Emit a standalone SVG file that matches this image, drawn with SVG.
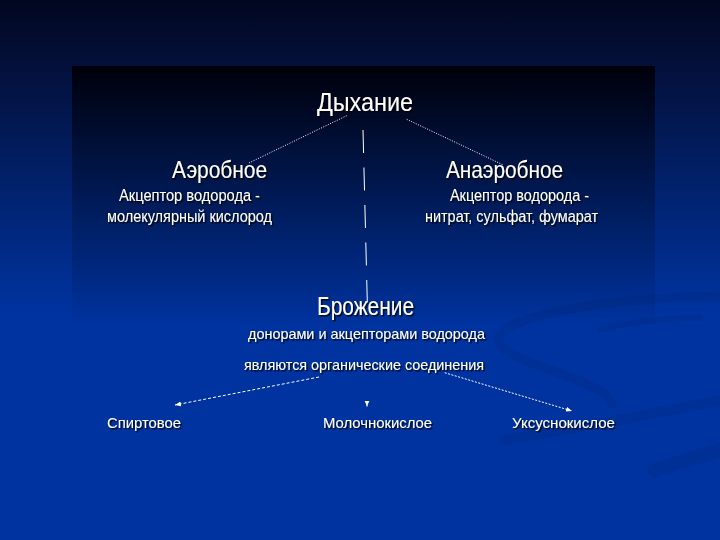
<svg xmlns="http://www.w3.org/2000/svg" width="720" height="540" viewBox="0 0 720 540">
  <defs>
    <linearGradient id="bgOuter" x1="0" y1="0" x2="0" y2="540" gradientUnits="userSpaceOnUse">
      <stop offset="0" stop-color="#020720"/>
      <stop offset="0.12" stop-color="#03103a"/>
      <stop offset="0.58" stop-color="#0033a0"/>
      <stop offset="1" stop-color="#0033a0"/>
    </linearGradient>
    <linearGradient id="bgInner" x1="0" y1="66" x2="0" y2="540" gradientUnits="userSpaceOnUse">
      <stop offset="0" stop-color="#00000a"/>
      <stop offset="0.55" stop-color="#0033a0"/>
      <stop offset="1" stop-color="#0033a0"/>
    </linearGradient>
    <filter id="shadow" x="-5%" y="-20%" width="110%" height="140%">
      <feDropShadow dx="1.5" dy="1.5" stdDeviation="0.4" flood-color="#000000" flood-opacity="0.85"/>
    </filter>
    <marker id="arrow" markerUnits="userSpaceOnUse" markerWidth="6" markerHeight="6" viewBox="0 0 6 6" refX="6" refY="3" orient="auto">
      <path d="M0,0.5 L6,3 L0,5.5 z" fill="#ffffff"/>
    </marker>
    <style>
      .t { font-family: "Liberation Sans", Arial, sans-serif; fill: #ffffff; filter: url(#shadow); }
      .title { font-size: 26px; }
      .sub { font-size: 24px; }
      .small { font-size: 16px; }
      .label { font-size: 15px; }
      .swirl { fill: none; stroke: #00205f; stroke-opacity: 0.16; stroke-linecap: round; }
      .conn { fill: none; stroke: #ffffff; stroke-width: 1; }
    </style>
  </defs>

  <!-- background -->
  <rect x="0" y="0" width="720" height="540" fill="url(#bgOuter)"/>
  <rect x="72" y="66" width="583" height="474" fill="url(#bgInner)"/>
  <g id="swirls">
    <path class="swirl" stroke-width="9" d="M720,296 C640,298 560,306 520,322 C480,338 500,352 540,366 C580,380 610,392 612,404"/>
    <path class="swirl" stroke-width="10" d="M505,440 C560,430 640,418 720,400"/>
    <path class="swirl" stroke-width="14" d="M655,470 C680,462 700,456 720,450"/>
    <path class="swirl" stroke-width="6" d="M700,318 C660,318 620,324 600,330"/>
  </g>

  <!-- connectors -->
  <g id="connectors">
    <path class="conn" stroke-dasharray="1 1.5" d="M346.7,115.7 L248.3,163.3"/>
    <path class="conn" stroke-dasharray="1 1.5" d="M406.7,119.3 L503.3,165"/>
    <path class="conn" stroke-dasharray="23 14.5" d="M363,130 L367.5,310"/>
    <path class="conn" stroke-dasharray="3 2" d="M319,377 L175,405" marker-end="url(#arrow)"/>
    <path class="conn" d="M367,405 L367,406.5" marker-end="url(#arrow)"/>
    <path class="conn" stroke-dasharray="2 1.5" d="M444.7,372.7 L572,411" marker-end="url(#arrow)"/>
  </g>

  <!-- nodes -->
  <g id="node-dykhanie">
    <text class="t title" x="317" y="111" textLength="96" lengthAdjust="spacingAndGlyphs">Дыхание</text>
  </g>
  <g id="node-aerobnoe">
    <text class="t sub" x="172" y="178" textLength="95" lengthAdjust="spacingAndGlyphs">Аэробное</text>
    <text class="t small" x="119" y="201" textLength="141" lengthAdjust="spacingAndGlyphs">Акцептор водорода -</text>
    <text class="t small" x="107" y="222" textLength="165" lengthAdjust="spacingAndGlyphs">молекулярный кислород</text>
  </g>
  <g id="node-anaerobnoe">
    <text class="t sub" x="446" y="178" textLength="117" lengthAdjust="spacingAndGlyphs">Анаэробное</text>
    <text class="t small" x="450" y="201" textLength="139" lengthAdjust="spacingAndGlyphs">Акцептор водорода -</text>
    <text class="t small" x="425" y="222" textLength="173" lengthAdjust="spacingAndGlyphs">нитрат, сульфат, фумарат</text>
  </g>
  <g id="node-brozhenie">
    <text class="t title" x="317" y="315" textLength="97" lengthAdjust="spacingAndGlyphs">Брожение</text>
    <text class="t label" x="248" y="339" textLength="237" lengthAdjust="spacingAndGlyphs">донорами и акцепторами водорода</text>
    <text class="t label" x="244" y="370" textLength="240" lengthAdjust="spacingAndGlyphs">являются органические соединения</text>
  </g>
  <g id="node-spirtovoe">
    <text class="t label" x="107" y="428" textLength="74" lengthAdjust="spacingAndGlyphs">Спиртовое</text>
  </g>
  <g id="node-molochnokisloe">
    <text class="t label" x="323" y="428" textLength="109" lengthAdjust="spacingAndGlyphs">Молочнокислое</text>
  </g>
  <g id="node-uksusnokisloe">
    <text class="t label" x="512" y="428" textLength="103" lengthAdjust="spacingAndGlyphs">Уксуснокислое</text>
  </g>
</svg>
